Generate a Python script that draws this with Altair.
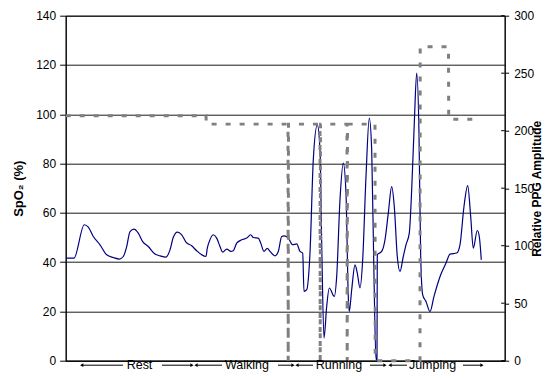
import altair as alt
import pandas as pd

# Relative PPG amplitude (right axis), time index
ppg_t = [0.3, 8.3, 18.6, 22.6, 27.6, 34.3, 41, 47.6, 53.6, 57.6, 61, 64.3, 68.3, 72.6, 77, 82.6,
         89.3, 94.3, 100.3, 104.3, 107.6, 111.6, 116, 120.3, 126, 131, 136, 140.3, 141.6, 143.6,
         147.6, 151, 154.3, 157, 161, 165.3, 167.6, 171, 176, 181, 185, 187.6, 192.6, 195, 198.3,
         201.6, 204.3, 209.3, 212.6, 216, 218.6, 222.6, 227, 231, 234.3, 237, 238.3, 241, 244.3,
         247.6, 251.6, 254.3, 256, 258.3, 261, 263.6, 268.6, 271, 274.3, 277.6, 280.3, 282.6,
         283.6, 286, 289.3, 291.6, 294.3, 297, 300.3, 303.6, 306, 308.3, 310.3, 311.3, 311.6,
         316, 319.3, 322.6, 326, 328.6, 331.6, 334.3, 337.6, 340.3, 343.6, 346, 348.6, 351,
         353.3, 355, 357, 360.3, 364.3, 368.3, 375, 380.3, 384.3, 391, 394.3, 398.3, 402, 405,
         407.6, 411.6, 413.6, 415.6]
ppg_v = [89.2, 89.2, 118.2, 116.2, 108.0, 100.8, 92.1, 89.7, 88.4, 90.6, 99.3, 112.3, 114.4,
         110.9, 103.6, 99.3, 92.7, 91.2, 90.1, 96.4, 107.3, 111.8, 109.5, 103.1, 99.9, 95.6,
         92.1, 90.6, 97.9, 103.6, 109.5, 106.6, 99.3, 94.4, 97.0, 95.0, 95.6, 102.3, 105.1,
         106.6, 109.5, 107.1, 106.6, 102.3, 95.0, 97.6, 95.0, 91.2, 95.0, 108.0, 108.6, 106.6,
         100.8, 101.6, 95.0, 93.6, 60.2, 61.7, 93.6, 174.6, 205.0, 183.3, 102.3, 19.7, 47.2,
         63.2, 55.9, 73.2, 139.9, 171.8, 145.7, 55.9, 42.8, 61.7, 83.4, 76.2, 63.2, 87.7, 160.1,
         210.9, 183.3, 73.2, 0.9, 0.9, 92.1, 95.0, 105.1, 128.3, 151.4, 134.1, 90.6, 77.6, 90.6,
         100.8, 110.9, 148.6, 206.5, 250.0, 197.8, 90.6, 57.3, 51.5, 42.8, 55.9, 74.7, 84.9,
         92.7, 93.6, 100.8, 134.1, 152.3, 125.4, 97.9, 113.2, 108.0, 87.7]

# SpO2 (left axis)
spo2_t = [0, 140.3, 140.6, 222.3, 222.5, 222.8, 254.3, 254.5, 254.8, 281.3, 281.5, 281.8,
          309.3, 309.5, 354.3, 354.5, 382.8, 383.0, 415.3]
spo2_v = [99.4, 99.4, 96, 96, 0, 96, 96, 0, 96, 96, 0, 96,
          96, 0, 0, 127.4, 127.4, 98, 98]

right_ticks = [0, 50, 100, 150, 200, 250, 300]
left_ticks = [0, 20, 40, 60, 80, 100, 120, 140]

phases = ["Rest", "Walking", "Running", "Jumping"]
label_t = [73.8, 181.3, 273.3, 366.8]
left_start = [16, 130.3, 231.3, 324.3]
left_end = [57.3, 156.3, 247.3, 341.3]
right_start = [96.3, 212.3, 304.3, 397.3]
right_end = [126.3, 227.3, 319.3, 416.3]

ppg_df = pd.DataFrame({"t": ppg_t, "ppg": ppg_v, "i": range(len(ppg_t))})
spo2_df = pd.DataFrame({"t": spo2_t, "spo2": spo2_v, "i": range(len(spo2_t))})
tick_df = pd.DataFrame({"v": right_ticks})
lab_df = pd.DataFrame({"t": label_t, "label": phases})
seg_df = pd.DataFrame({"x1": left_start + right_start, "x2": left_end + right_end})
head_df = pd.DataFrame({"t": left_start + right_end,
                        "s": ["triangle-left"] * 4 + ["triangle-right"] * 4})

FONT = "Liberation Sans"
xscale = alt.Scale(domain=[0, 439], nice=False, zero=False)
xaxis = alt.Axis(title=None, labels=False, ticks=False, grid=False)
TEXT_Y = 353.5   # baseline of the phase labels (plot coords)
ARROW_Y = 349.5

ppg_line = alt.Chart(ppg_df).mark_line(color="#000080", strokeWidth=1.2, interpolate="monotone").encode(
    x=alt.X("t:Q", scale=xscale, axis=xaxis),
    y=alt.Y("ppg:Q", scale=alt.Scale(domain=[0, 300], nice=False),
            axis=alt.Axis(orient="right", title="Relative PPG Amplitude", values=right_ticks,
                          grid=False, tickSize=4, labelPadding=5, titleAngle=270,
                          titleX=27, titleY=172.6, titleBaseline="top", titleAlign="center",
                          titleFontWeight="bold", titleFontSize=12)),
    order="i:Q",
)

spo2_line = alt.Chart(spo2_df).mark_line(color="#808080", strokeWidth=3, strokeDash=[5, 9],
                                         strokeCap="butt").encode(
    x=alt.X("t:Q", scale=xscale, axis=xaxis),
    y=alt.Y("spo2:Q", scale=alt.Scale(domain=[0, 140], nice=False),
            axis=alt.Axis(orient="left", title="SpO₂ (%)", values=left_ticks, grid=True,
                          gridColor="#1a1a1a", gridWidth=1, tickSize=6, labelPadding=4,
                          titlePadding=10, titleFontWeight="bold", titleFontSize=13)),
    order="i:Q",
)

inner_ticks = alt.Chart(tick_df).mark_rule(color="black").encode(
    x=alt.value(435.5), x2=alt.value(439),
    y=alt.Y("v:Q", scale=alt.Scale(domain=[0, 300], nice=False), axis=None),
)

labels = alt.Chart(lab_df).mark_text(font=FONT, fontSize=12.5, color="black",
                                     baseline="alphabetic", align="center").encode(
    x=alt.X("t:Q", scale=xscale), y=alt.value(TEXT_Y), text="label:N")

segs = alt.Chart(seg_df).mark_rule(color="black", strokeWidth=1).encode(
    x=alt.X("x1:Q", scale=xscale), x2="x2:Q", y=alt.value(ARROW_Y))

heads = alt.Chart(head_df).mark_point(filled=True, color="black", size=14, opacity=1).encode(
    x=alt.X("t:Q", scale=xscale), y=alt.value(ARROW_Y), shape=alt.Shape("s:N", scale=None))

chart = alt.layer(ppg_line, spo2_line, inner_ticks, segs, heads, labels).resolve_scale(
    y="independent"
).properties(
    width=439, height=345,
    padding={"left": 57.7, "top": 7.7, "right": 39, "bottom": 11},
    autosize=alt.AutoSizeParams(type="none"),
).configure_axis(
    labelFont=FONT, titleFont=FONT, labelFontSize=12, titleFontSize=12,
    labelColor="black", titleColor="black", tickColor="black", domainColor="black",
).configure_view(stroke="black", strokeWidth=1)

chart.save("out.html", embed_options={"renderer": "svg", "actions": False})
